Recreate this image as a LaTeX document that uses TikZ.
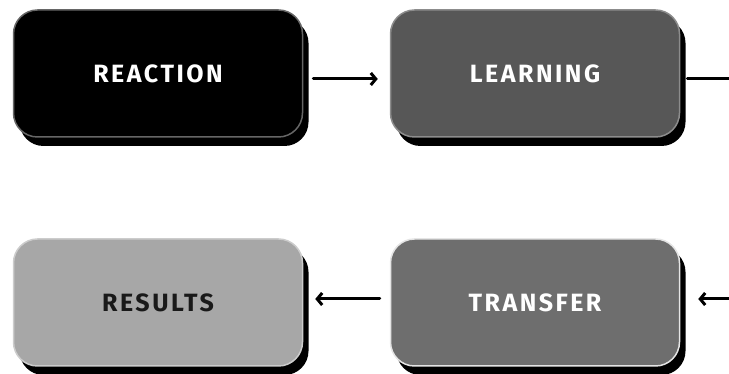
\documentclass[tikz,border=0pt]{standalone}
\usepackage{fontspec}
\usetikzlibrary{arrows.meta,shadows}
\newfontfamily\boxfont[LetterSpace=10]{Fira Sans}
\definecolor{boxdark}{HTML}{575757}
\definecolor{boxmid}{HTML}{6E6E6E}
\definecolor{boxlight}{HTML}{A7A7A7}
\tikzset{
  stagebox/.style={rounded corners=24pt, minimum width=289pt, minimum height=127pt,
    line width=1.5pt, font=\boxfont\bfseries\fontsize{25}{25}\selectfont, text=white,
    drop shadow={shadow xshift=6pt, shadow yshift=-9pt, fill=black, opacity=1}},
  flow/.style={line width=3pt, shorten <=10pt, shorten >=12pt}
}
\begin{document}
\begin{tikzpicture}[line cap=round,line join=round,>={Straight Barb[length=5pt,width=12pt]},x=1pt,y=1pt]
\useasboundingbox (0,0) rectangle (729,374);
\clip (0,0) rectangle (729,374);

\node[stagebox, fill=black, draw=black!60] (reaction) at (158,300.5) {REACTION};
\node[stagebox, fill=boxdark, draw=black!45] (learning) at (535,300.5) {LEARNING};
\node[stagebox, fill=boxlight, draw=black!20, text=black!90] (results) at (158,71.5) {RESULTS};
\node[stagebox, fill=boxmid, draw=black!10] (transfer) at (535,71.5) {TRANSFER};

% the loop back runs past the right border
\coordinate (turn) at (760,0);

\draw [->, flow] ([yshift=-5.5pt]reaction.east) -- ([yshift=-5.5pt]learning.west);
\draw [->, flow, shorten <=7pt, shorten >=18pt] ([yshift=-5.5pt]learning.east) -- ([yshift=-5.5pt]learning.east -| turn)
  -- ([yshift=3.5pt]transfer.east -| turn) -- ([yshift=3.5pt]transfer.east);
\draw [->, flow] ([yshift=3.5pt]transfer.west) -- ([yshift=3.5pt]results.east);
\end{tikzpicture}
\end{document}
